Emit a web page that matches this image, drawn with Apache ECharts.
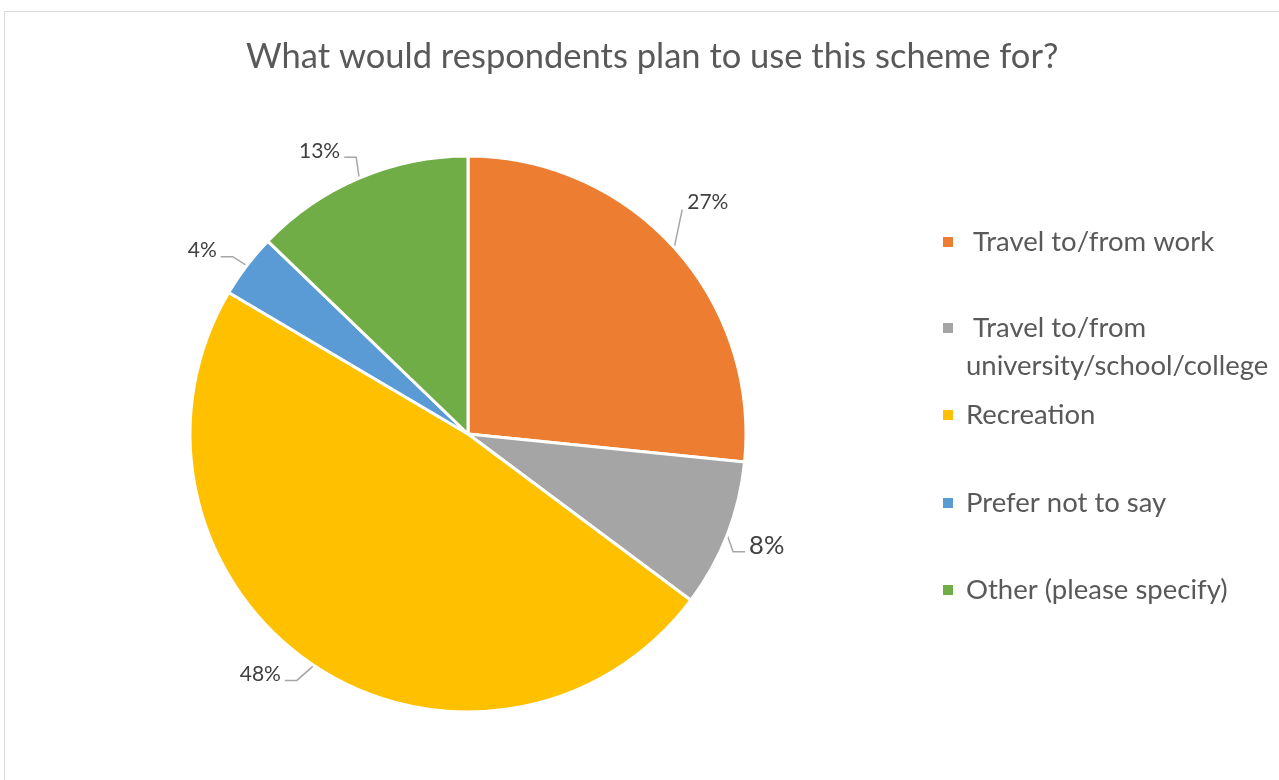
<!DOCTYPE html>
<html>
<head>
<meta charset="utf-8">
<script src="https://cdn.jsdelivr.net/npm/echarts@6/dist/echarts.min.js"></script>
<style>html,body{margin:0;padding:0;background:#fff;}#c{width:1279px;height:780px;}</style>
</head>
<body>
<div id="c"></div>
<script>
const titleText = 'What would respondents plan to use this scheme for?';
const categories = [' Travel to/from work', ' Travel to/from university/school/college', 'Recreation', 'Prefer not to say', 'Other (please specify)'];
const values = [26.6, 8.6, 48.3, 3.7, 12.8];
const colors = ['#ED7D31', '#A5A5A5', '#FFC000', '#5B9BD5', '#70AD47'];

const FONT = 'Lato';
const chart = echarts.init(document.getElementById('c'));

// legend layout (styling)
const legendCenters = [242, 328, 415, 503, 590];
const L = 38;
const legends = categories.map((name, i) => ({
  orient: 'vertical',
  left: 941,
  top: i === 1 ? legendCenters[i] - 1.5 * L : legendCenters[i] - L / 2,
  padding: 0,
  itemWidth: 12,
  itemHeight: 12,
  icon: 'rect',
  data: [name],
  selectedMode: false,
  formatter: n => n === ' Travel to/from university/school/college' ? '\n Travel to/from\nuniversity/school/college' : n,
  textStyle: {
    fontFamily: FONT, fontSize: 27.5, color: '#595959', lineHeight: L,
    padding: [0, 0, 0, 7]
  }
}));

// label guide shapes (offsets from slice edge point): [seg1 dx, seg1 dy, seg2 dx, label dx, label dy, align]
const guides = [
  [8, -38, 0, 5, -7, 'left'],
  [6, 17, 12, 4, -6, 'left'],
  [-17, 15, -12, -4, -6, 'right'],
  [-14, -9, -12, -4, -6, 'right'],
  [-3, -21, -12, -4, -6, 'right']
];
const labelSizes = [21, 25.5, 21, 21, 21];

chart.setOption({
  animation: false,
  backgroundColor: '#fff',
  color: colors,
  graphic: [{
    type: 'rect', shape: { x: 4.5, y: 11.5, width: 1400, height: 900 },
    style: { fill: 'none', stroke: '#d9d9d9', lineWidth: 1 }, silent: true
  }],
  title: {
    text: titleText, left: 246, top: 39, padding: 0,
    textStyle: { fontFamily: FONT, fontSize: 34.5, fontWeight: 'normal', color: '#595959' }
  },
  legend: legends,
  series: [{
    type: 'pie',
    center: [468, 434],
    radius: 278,
    startAngle: 90,
    clockwise: true,
    percentPrecision: 0,
    avoidLabelOverlap: false,
    itemStyle: { borderColor: '#fff', borderWidth: 3 },
    label: { show: true, position: 'outside', formatter: '{d}%', fontFamily: FONT, color: '#404040', fontSize: 21 },
    labelLine: { show: true, length: 15, length2: 10, lineStyle: { color: '#a6a6a6', width: 1.5 } },
    labelLayout: function (p) {
      const g = guides[p.dataIndex];
      const pts = p.labelLinePoints;
      if (!g || !pts) return {};
      const p0 = pts[0];
      const p1 = [p0[0] + g[0], p0[1] + g[1]];
      const p2 = [p1[0] + g[2], p1[1]];
      return {
        x: p2[0] + g[3], y: p2[1] + g[4],
        align: g[5], verticalAlign: 'middle',
        labelLinePoints: [p0, p1, p2]
      };
    },
    emphasis: { disabled: true },
    data: categories.map((name, i) => ({
      name, value: values[i],
      label: { fontSize: labelSizes[i] }
    }))
  }]
});
</script>
</body>
</html>
